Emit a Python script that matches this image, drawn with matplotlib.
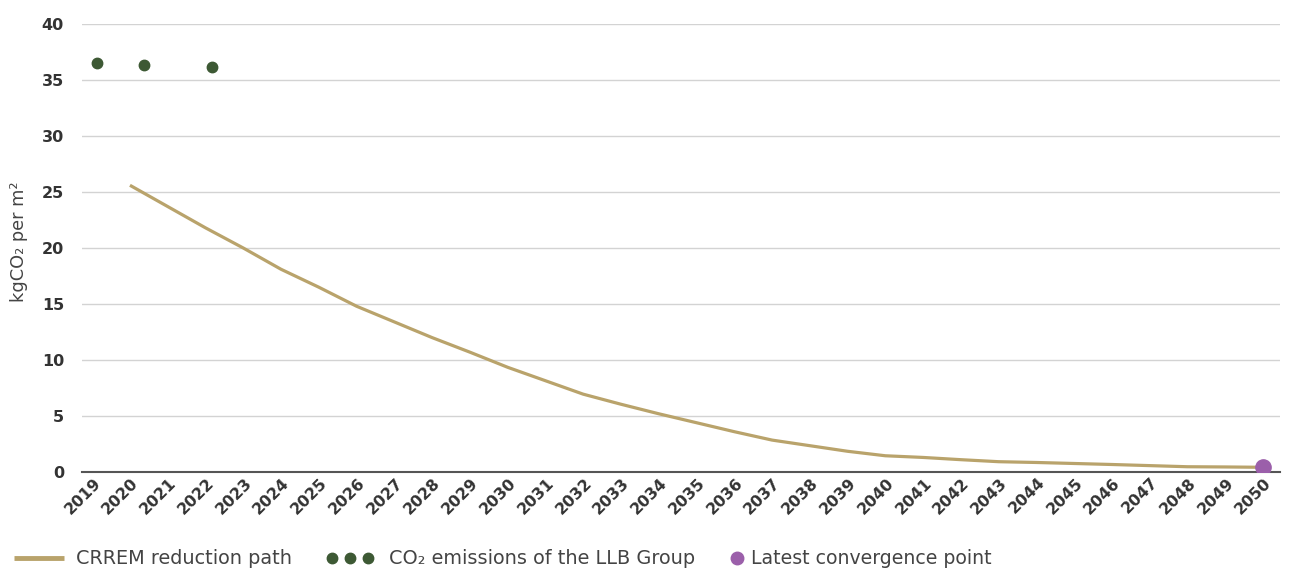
import matplotlib
matplotlib.use("Agg")
import matplotlib.pyplot as plt
from matplotlib.lines import Line2D
from matplotlib.transforms import ScaledTranslation

# ---- data ----
years = list(range(2019, 2051))
crrem_years = [2020, 2021, 2022, 2023, 2024, 2025, 2026, 2027, 2028, 2029, 2030,
               2031, 2032, 2033, 2034, 2035, 2036, 2037, 2038, 2039, 2040,
               2041, 2042, 2043, 2044, 2045, 2046, 2047, 2048, 2049, 2050]
crrem_values = [25.6, 23.7, 21.8, 20.0, 18.1, 16.5, 14.8, 13.4, 12.0, 10.7, 9.35,
                8.15, 6.95, 6.05, 5.2, 4.4, 3.6, 2.85, 2.35, 1.85, 1.45,
                1.3, 1.1, 0.92, 0.85, 0.76, 0.67, 0.57, 0.47, 0.45, 0.42]
llb_x = [2019.13, 2020.36, 2022.17]
llb_values = [36.5, 36.3, 36.2]
conv_x = [2050]
conv_values = [0.42]
yticks = [0, 5, 10, 15, 20, 25, 30, 35, 40]

LINE_C = "#b9a36b"
GREEN = "#3d5934"
PURPLE = "#9b5faa"
TXT = "#333333"

W, H = 1289, 570
fig = plt.figure(figsize=(W / 100, H / 100), dpi=100)
ax = fig.add_axes([82 / W, (H - 472) / H, (1280 - 82) / W, (472 - 24) / H])

ax.plot(crrem_years, crrem_values, color=LINE_C, lw=2.3, solid_capstyle="butt", zorder=3)
ax.plot(llb_x, llb_values, linestyle="none", marker="o", ms=7.5, color=GREEN, zorder=4)
ax.plot(conv_x, conv_values, linestyle="none", marker="o", ms=11, color=PURPLE, zorder=5)

ax.set_xlim(2018.73, 2050.45)
ax.set_ylim(0, 40)
ax.set_yticks(yticks)
ax.set_yticklabels([str(v) for v in yticks])
ax.set_xticks(years)
ax.set_xticklabels([str(y) for y in years])

ax.grid(axis="y", color="#d3d3d3", lw=1)
ax.set_axisbelow(True)
for s in ["top", "right", "left"]:
    ax.spines[s].set_visible(False)
ax.spines["bottom"].set_color("#555555")
ax.spines["bottom"].set_linewidth(1.5)
ax.spines["bottom"].set_zorder(2)

ax.tick_params(axis="both", length=0)
ax.tick_params(axis="y", pad=13, labelsize=11.5, labelcolor=TXT)
ax.tick_params(axis="x", pad=6, labelsize=11.3, labelcolor=TXT)
for lab in ax.get_yticklabels():
    lab.set_fontweight("bold")
off = ScaledTranslation(6 / 100, 0, fig.dpi_scale_trans)
for lab in ax.get_xticklabels():
    lab.set_fontweight("bold")
    lab.set_rotation(45)
    lab.set_ha("right")
    lab.set_va("center")
    lab.set_rotation_mode("anchor")
    lab.set_transform(lab.get_transform() + off)

fig.text(19 / W, 1 - 242 / H, "kgCO\u2082 per m\u00b2", rotation=90, ha="center", va="center",
         fontsize=12.8, color="#444444")

# ---- legend (manual) ----
ly = 1 - 558 / H
LFS = 13.9
fig.add_artist(Line2D([14 / W, 64 / W], [ly, ly], transform=fig.transFigure,
                      color=LINE_C, lw=3.5, solid_capstyle="butt"))
fig.text(76 / W, ly, "CRREM reduction path", ha="left", va="center", fontsize=LFS, color="#444444")
for px in (332, 350, 368):
    fig.add_artist(Line2D([px / W], [ly], transform=fig.transFigure, marker="o",
                          ms=7.5, color=GREEN, linestyle="none"))
fig.text(389 / W, ly, "CO\u2082 emissions of the LLB Group", ha="left", va="center",
         fontsize=LFS, color="#444444")
fig.add_artist(Line2D([737 / W], [ly], transform=fig.transFigure, marker="o",
                      ms=9, color=PURPLE, linestyle="none"))
fig.text(751 / W, ly, "Latest convergence point", ha="left", va="center", fontsize=LFS - 0.3,
         color="#444444")

fig.savefig("out.png", dpi=100)
